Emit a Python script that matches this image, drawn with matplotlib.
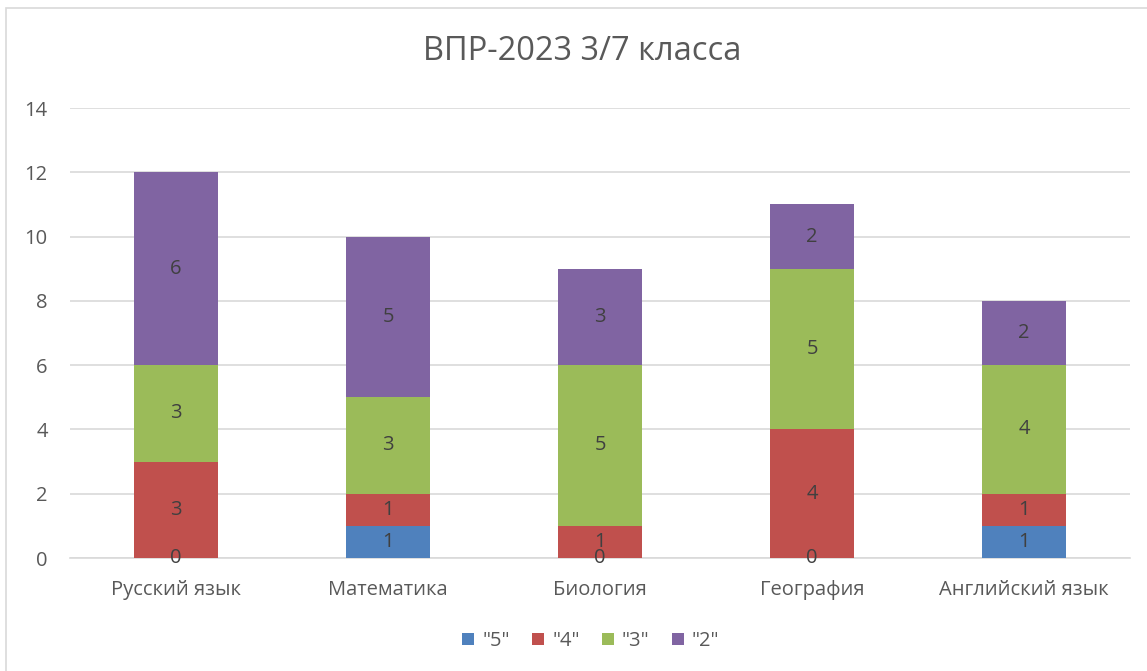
import numpy as np
import matplotlib.pyplot as plt
from matplotlib.patches import Rectangle

# данные
subjects = ['Русский язык', 'Математика', 'Биология', 'География', 'Английский язык']
grades = ['"5"', '"4"', '"3"', '"2"']
g5 = [0, 1, 0, 0, 1]
g4 = [3, 1, 1, 4, 1]
g3 = [3, 3, 5, 5, 4]
g2 = [6, 5, 3, 2, 2]
colors = ['#4F81BD', '#C0504D', '#9BBB59', '#8064A2']

plt.rcParams['font.family'] = ['Open Sans', 'DejaVu Sans']

fig = plt.figure(figsize=(11.47, 6.71), dpi=100)
ax = fig.add_axes([70 / 1147, 1 - 558 / 671, 1060 / 1147, 450 / 671])

x = np.arange(len(subjects))
bottom = np.zeros(len(subjects))
for vals, name, col in zip([g5, g4, g3, g2], grades, colors):
    ax.bar(x, vals, 0.40, bottom=bottom, color=col, label=name, zorder=3)
    # подписи значений (нули "5" тоже показываются, как в Excel)
    for xi, b, v in zip(x, bottom, vals):
        if v == 0 and name != '"5"':
            continue
        ax.text(xi, b + v / 2, str(v), ha='center', va='center',
                fontsize=14.5, color='#404040', zorder=4)
    bottom += np.array(vals)

ax.set_xlim(-0.5, len(subjects) - 0.5)
ax.set_ylim(0, 14)
ax.set_yticks(range(0, 15, 2))
ax.set_xticks(x)
ax.set_xticklabels(subjects)
ax.tick_params(axis='both', length=0, labelsize=14.5, labelcolor='#595959')
ax.tick_params(axis='y', pad=16)
ax.tick_params(axis='x', pad=16)
ax.grid(axis='y', color='#d9d9d9', linewidth=1.2, zorder=0)
for s in ['top', 'right', 'left']:
    ax.spines[s].set_visible(False)
ax.spines['bottom'].set_color('#d9d9d9')
ax.spines['bottom'].set_linewidth(1.2)

fig.text(0.508, 1 - 52 / 671, 'ВПР-2023 3/7 класса', ha='center', va='center',
         fontsize=23.5, color='#595959')

fig.legend(loc='center', bbox_to_anchor=(0.515, 1 - 641 / 671), ncol=4,
           frameon=False, fontsize=14.5, labelcolor='#595959',
           handlelength=0.6, handleheight=0.6, handletextpad=0.4,
           columnspacing=1.1)

fig.add_artist(Rectangle((6 / 1147, -0.1), 2, (671 - 8) / 671 + 0.1,
                         transform=fig.transFigure, fill=False,
                         edgecolor='#d9d9d9', linewidth=1.2))

fig.savefig('out.png', dpi=100)
